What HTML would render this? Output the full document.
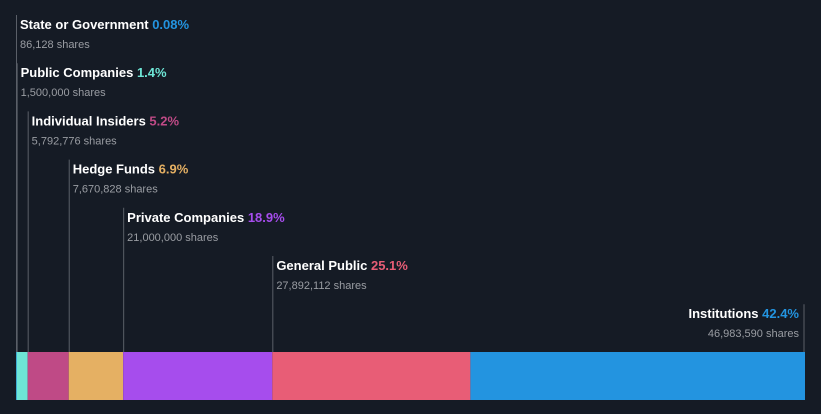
<!DOCTYPE html>
<html><head><meta charset="utf-8"><style>
body{margin:0;background:#151b25;width:821px;height:414px;overflow:hidden;font-family:"Liberation Sans",sans-serif}
svg{display:block}
</style></head><body>
<svg id="chart" width="821" height="414" xmlns="http://www.w3.org/2000/svg"></svg>
<script>
const categories=["State or Government","Public Companies","Individual Insiders","Hedge Funds","Private Companies","General Public","Institutions"];
const percents=[0.08,1.4,5.2,6.9,18.9,25.1,42.4];
const shares=["86,128","1,500,000","5,792,776","7,670,828","21,000,000","27,892,112","46,983,590"];
const colors=["#2394e0","#6ee6d6","#bf4a86","#e5b063","#a64ded","#e85d76","#2394e0"];
const svg=document.getElementById('chart');
const NS='http://www.w3.org/2000/svg';
const x0=16,W=789,barY=352,barH=48;
const total=percents.reduce((a,b)=>a+b,0);
const xs=v=>x0+v/total*W;
let cum=0;
percents.forEach((p,i)=>{
  const xa=xs(cum),xb=xs(cum+p);cum+=p;
  const r=document.createElementNS(NS,'rect');
  r.setAttribute('x',xa);r.setAttribute('y',barY);r.setAttribute('width',Math.max(xb-xa,0.8));r.setAttribute('height',barH);r.setAttribute('fill',colors[i]);
  
  
  svg.appendChild(r);
  const last=i===percents.length-1;
  const lx=last?xb-1:Math.max(xa,x0+i*0.6)+0.5;
  const top=15+i*48.2;
  const l=document.createElementNS(NS,'line');
  l.setAttribute('x1',lx);l.setAttribute('x2',lx);l.setAttribute('y1',top);l.setAttribute('y2',barY);
  l.setAttribute('stroke','#5a5f68');l.setAttribute('stroke-width','1');
  
  
  svg.appendChild(l);
  const t=document.createElementNS(NS,'text');
  t.setAttribute('x',last?lx-5:lx+3.5);t.setAttribute('y',top+14);
  t.setAttribute('text-anchor',last?'end':'start');
  t.setAttribute('font-size','13');t.setAttribute('font-weight','bold');t.setAttribute('fill','#ffffff');
  
  
  const s1=document.createElementNS(NS,'tspan');s1.textContent=categories[i]+' ';t.appendChild(s1);
  const s2=document.createElementNS(NS,'tspan');s2.setAttribute('fill',colors[i]);s2.textContent=percents[i]+'%';t.appendChild(s2);
  svg.appendChild(t);
  const t2=document.createElementNS(NS,'text');
  t2.setAttribute('x',last?lx-5:lx+3.5);t2.setAttribute('y',top+33);
  t2.setAttribute('text-anchor',last?'end':'start');
  t2.setAttribute('font-size','11');t2.setAttribute('fill','#9a9da3');
  
  
  t2.textContent=shares[i]+' shares';
  svg.appendChild(t2);
});
</script>
</body></html>
